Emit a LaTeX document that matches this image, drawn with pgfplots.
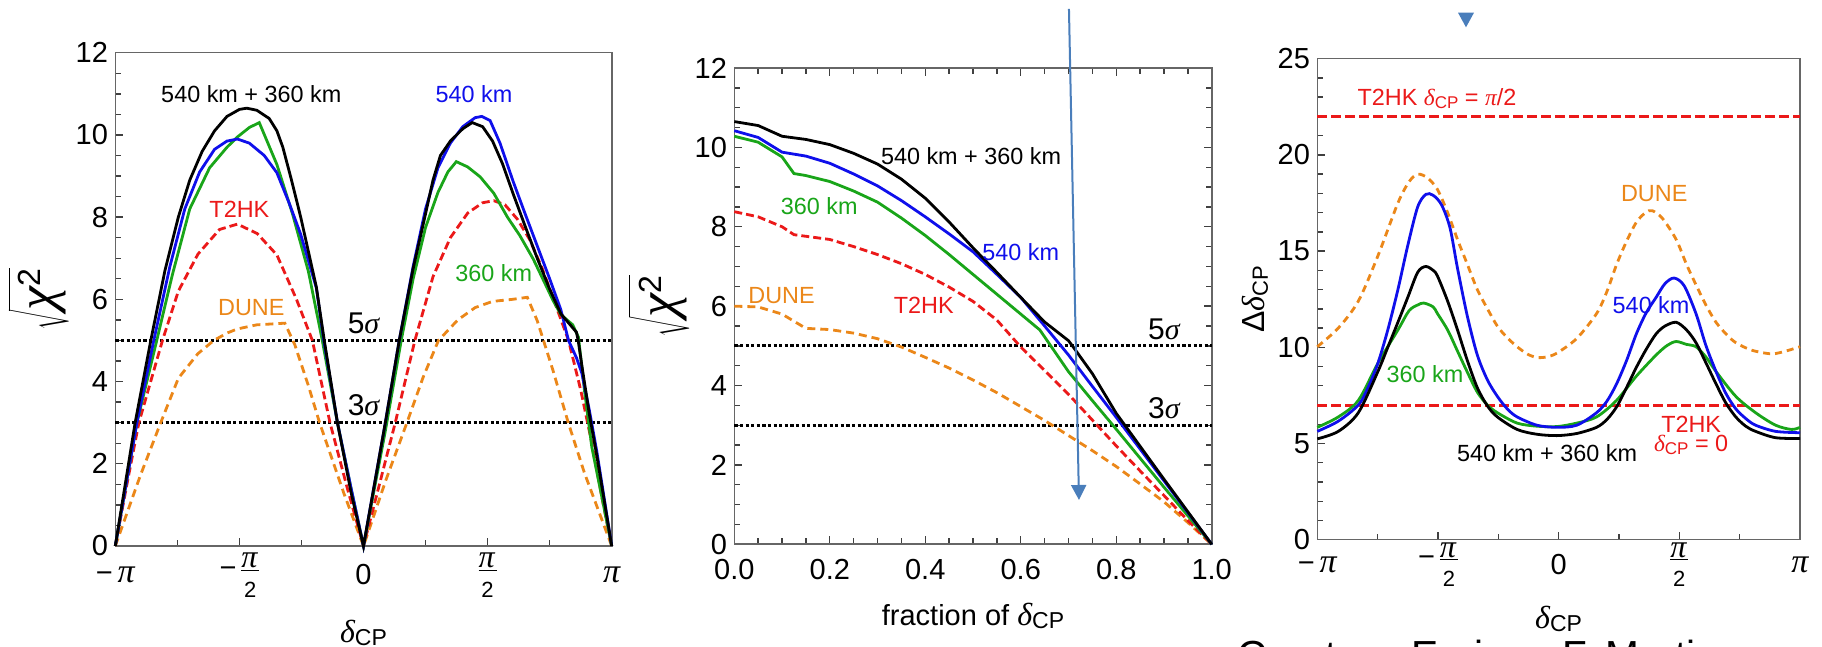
\documentclass[border=0pt]{standalone}
\usepackage{pgfplots}
\pgfplotsset{compat=1.18}
\usepackage{fontspec}
\setmainfont{Liberation Sans}
\newfontfamily\grk{Liberation Serif}
\usetikzlibrary{arrows.meta}

\definecolor{cblue}{RGB}{15,15,235}
\definecolor{cgreen}{RGB}{25,165,25}
\definecolor{cred}{RGB}{235,25,25}
\definecolor{corange}{RGB}{235,135,25}
\definecolor{arrowblue}{RGB}{74,126,187}

\newcommand\fs[1]{\fontsize{#1}{#1}\selectfont}
\newcommand\gi[1]{{\grk\itshape #1}}
\newcommand\dcp[2]{{\fs{#1}\gi{δ}}{\fs{#2}\raisebox{-0.15em}{CP}}}
\newcommand\bpi{{\fs{17}\gi{π}}}
\newcommand\mpi{−\,\bpi}
\newcommand\pistack{\vbox{\offinterlineskip\halign{\hfil##\hfil\cr
  \hbox{\fs{16}\gi{π}\kern1pt}\cr\noalign{\kern0.8pt\hrule height0.6pt\kern5.5pt}
  \hbox{\fs{11}2}\cr}}}
\newcommand\hpi{\raisebox{-1.5pt}{$\vcenter{\pistack}$}}
\newcommand\mhpi{\raisebox{1pt}{−}\,\hpi}
\newcommand\sqchi{\fs{27}$\sqrt{\rule{0pt}{21pt}\hbox{\gi{χ}}^{\hbox{\fs{16}2}}}$}

\pgfplotsset{
  myaxis/.style={
    scale only axis,
    clip=false,
    axis line style={draw=black!60, line width=0.8pt},
    tick style={draw=black!75, line width=0.7pt},
    tick align=inside,
    major tick length=4pt, minor tick length=3pt,
    ticklabel style={font=\fs{14.5}},
    yticklabel style={anchor=east, inner sep=0pt, xshift=-3.5pt},
  },
  sig/.style={black, line width=1.4pt, dash pattern=on 1.6pt off 1.2pt},
  cur/.style={line width=1.4pt},
}

\begin{document}
\begin{tikzpicture}
\path[use as bounding box] (0,0) rectangle (911pt,323.5pt);

% ---------------- panel 1 ----------------
\begin{axis}[myaxis,
  at={(57.65pt,50.5pt)}, anchor=south west,
  width=248.2pt, height=246.65pt,
  xmin=-1, xmax=1, ymin=0, ymax=12,
  xtick={-1,-0.5,0,0.5,1},
  minor xtick={-0.75,-0.25,0.25,0.75},
  xticklabels={{\mpi},{\mhpi},{0},{\hpi},{\bpi}},
  xticklabel style={anchor=center, yshift=-14.5pt},
  ytick={0,2,4,6,8,10,12},
  yticklabels={0,2,4,6,8,10,12},
  minor y tick num=3,
  xtick pos=left, ytick pos=left,
  xlabel={\dcp{16}{11.5}},
  xlabel style={at={(axis description cs:0.5,-0.176)}, anchor=center},
  ylabel={\sqchi},
  ylabel style={at={(axis description cs:-0.155,0.5)}, anchor=center},
]
\addplot[sig] coordinates {(-1,5) (1,5)};
\addplot[sig] coordinates {(-1,3) (1,3)};
% DUNE
\addplot[cur, corange, dash pattern=on 4pt off 2.5pt] coordinates {
(-1,0) (-0.9,1.7) (-0.817,3.0) (-0.746,4.08) (-0.667,4.68) (-0.603,5.0) (-0.55,5.18) (-0.508,5.28) (-0.43,5.38) (-0.317,5.42) (-0.277,4.9) (-0.222,3.9) (-0.177,3.0) (-0.079,1.28) (0,0)
(0.09,1.6) (0.175,3.0) (0.24,4.1) (0.302,5.0) (0.38,5.5) (0.45,5.8) (0.52,5.95) (0.6,6.0) (0.66,6.05) (0.70,5.48) (0.763,4.28) (0.826,2.98) (0.89,1.78) (1,0)};
% T2HK
\addplot[cur, cred, dash pattern=on 4pt off 2pt] coordinates {
(-1,0) (-0.95,1.6) (-0.905,3.0) (-0.81,5.0) (-0.746,6.2) (-0.667,7.1) (-0.58,7.7) (-0.508,7.83) (-0.428,7.6) (-0.349,7.08) (-0.27,6.0) (-0.206,5.0) (-0.135,3.0) (-0.065,1.4) (0,0)
(0.06,1.4) (0.128,3.0) (0.207,5.0) (0.28,6.55) (0.35,7.5) (0.42,8.1) (0.48,8.35) (0.525,8.4) (0.57,8.3) (0.62,7.95) (0.67,7.45) (0.72,6.75) (0.763,6.05) (0.826,5.0) (0.875,3.8) (0.92,2.5) (0.96,1.2) (1,0)};
% 360 km
\addplot[cur, cgreen] coordinates {
(-1,0) (-0.913,3) (-0.833,5) (-0.77,6.6) (-0.70,8.2) (-0.62,9.2) (-0.55,9.7) (-0.508,9.95) (-0.46,10.18) (-0.42,10.3) (-0.349,9.28) (-0.286,8.08) (-0.222,6.68) (-0.166,5.0) (-0.105,3.0) (-0.05,1.4) (0,0)
(0.088,2.8) (0.152,5.0) (0.2,6.5) (0.25,7.75) (0.30,8.6) (0.34,9.1) (0.374,9.35) (0.42,9.22) (0.47,8.98) (0.525,8.58) (0.58,8.0) (0.63,7.55) (0.684,6.98) (0.73,6.4) (0.763,5.98) (0.795,5.63) (0.843,5.38) (0.866,5.08) (0.89,3.8) (0.92,2.4) (1,0)};
% 540 km
\addplot[cur, cblue] coordinates {
(-1,0) (-0.913,3) (-0.845,5) (-0.78,6.8) (-0.72,8.2) (-0.66,9.1) (-0.6,9.65) (-0.55,9.85) (-0.508,9.9) (-0.46,9.8) (-0.40,9.5) (-0.349,9.08) (-0.30,8.35) (-0.253,7.58) (-0.19,6.28) (-0.16,5.0) (-0.105,3.0) (-0.05,1.4) (0,0)
(0.088,3.0) (0.144,5.0) (0.2,6.8) (0.25,8.2) (0.3,9.2) (0.35,9.8) (0.40,10.2) (0.45,10.42) (0.477,10.45) (0.51,10.35) (0.55,9.8) (0.604,8.85) (0.65,8.1) (0.70,7.3) (0.75,6.5) (0.795,5.75) (0.826,5.0) (0.858,4.58) (0.88,4.2) (0.91,3.3) (0.94,2.3) (1,0)};
% 540 + 360
\addplot[cur, black] coordinates {
(-1,0) (-0.92,3) (-0.857,5) (-0.80,6.7) (-0.746,8) (-0.70,8.9) (-0.65,9.6) (-0.60,10.1) (-0.55,10.45) (-0.5,10.62) (-0.47,10.65) (-0.43,10.6) (-0.38,10.4) (-0.349,10.1) (-0.325,9.7) (-0.29,8.9) (-0.253,8.0) (-0.19,6.3) (-0.158,5.0) (-0.105,3.0) (-0.05,1.3) (0,0)
(0.05,1.7) (0.088,3.0) (0.144,5.0) (0.2,6.75) (0.247,8.0) (0.28,8.9) (0.31,9.5) (0.35,9.85) (0.40,10.15) (0.438,10.3) (0.48,10.2) (0.52,9.85) (0.56,9.3) (0.604,8.55) (0.65,7.8) (0.70,7.0) (0.75,6.25) (0.795,5.65) (0.83,5.4) (0.858,5.2) (0.865,5.0) (0.882,4.3) (0.91,3.2) (0.94,2.2) (1,0)};
\node[font=\fs{11.7}, text=black] at (axis cs:-0.452,10.98) {540 km + 360 km};
\node[font=\fs{11.7}, text=cblue] at (axis cs:0.445,10.98) {540 km};
\node[font=\fs{11.7}, text=cred] at (axis cs:-0.5,8.18) {T2HK};
\node[font=\fs{11.7}, text=cgreen] at (axis cs:0.525,6.63) {360 km};
\node[font=\fs{11.7}, text=corange] at (axis cs:-0.452,5.8) {DUNE};
\node[font=\fs{15}] at (axis cs:0,5.42) {5\gi{σ}};
\node[font=\fs{15}] at (axis cs:0,3.42) {3\gi{σ}};
\end{axis}

% ---------------- panel 2 ----------------
\begin{axis}[myaxis,
  at={(367.15pt,51.35pt)}, anchor=south west,
  width=238.7pt, height=238.15pt,
  xmin=0, xmax=1, ymin=0, ymax=12,
  xtick={0,0.2,0.4,0.6,0.8,1},
  xticklabels={0.0,0.2,0.4,0.6,0.8,1.0},
  minor x tick num=3,
  xticklabel style={anchor=center, yshift=-12.5pt},
  ytick={0,2,4,6,8,10,12},
  yticklabels={0,2,4,6,8,10,12},
  minor y tick num=3,
  xtick pos=both, ytick pos=both,
  xlabel={\fs{14.5}fraction of \dcp{16}{11.5}},
  xlabel style={at={(axis description cs:0.5,-0.15)}, anchor=center},
  ylabel={\sqchi},
  ylabel style={at={(axis description cs:-0.158,0.5)}, anchor=center},
]
\addplot[sig] coordinates {(0,5) (1,5)};
\addplot[sig] coordinates {(0,3) (1,3)};
\addplot[cur, corange, dash pattern=on 4pt off 2.5pt] coordinates {
(0,6.0) (0.05,5.98) (0.1,5.8) (0.15,5.44) (0.2,5.41) (0.25,5.32) (0.3,5.18) (0.35,4.97) (0.4,4.71) (0.45,4.44) (0.5,4.14) (0.55,3.82) (0.6,3.47) (0.65,3.12) (0.7,2.74) (0.75,2.36) (0.8,1.96) (0.85,1.52) (0.9,1.07) (0.95,0.55) (1,0)};
\addplot[cur, cred, dash pattern=on 4pt off 2pt] coordinates {
(0,8.38) (0.05,8.25) (0.1,8.0) (0.125,7.8) (0.2,7.68) (0.25,7.5) (0.3,7.3) (0.35,7.07) (0.4,6.8) (0.45,6.48) (0.5,6.12) (0.55,5.65) (0.6,4.97) (0.65,4.38) (0.7,3.78) (0.75,3.13) (0.8,2.48) (0.85,1.85) (0.9,1.23) (0.95,0.6) (1,0)};
\addplot[cur, cgreen] coordinates {
(0,10.28) (0.05,10.13) (0.1,9.76) (0.125,9.34) (0.15,9.29) (0.2,9.14) (0.25,8.9) (0.3,8.62) (0.35,8.22) (0.4,7.78) (0.45,7.3) (0.5,6.8) (0.55,6.3) (0.6,5.8) (0.64,5.4) (0.7,4.35) (0.75,3.62) (0.8,2.9) (0.85,2.17) (0.9,1.44) (0.95,0.72) (1,0)};
\addplot[cur, cblue] coordinates {
(0,10.42) (0.05,10.25) (0.1,9.88) (0.15,9.78) (0.2,9.6) (0.25,9.33) (0.3,9.03) (0.35,8.66) (0.4,8.25) (0.45,7.82) (0.5,7.37) (0.55,6.8) (0.6,6.22) (0.65,5.5) (0.7,4.77) (0.75,3.98) (0.8,3.2) (0.85,2.4) (0.9,1.6) (0.95,0.8) (1,0)};
\addplot[cur, black] coordinates {
(0,10.65) (0.05,10.55) (0.1,10.28) (0.15,10.2) (0.2,10.07) (0.25,9.85) (0.3,9.58) (0.35,9.2) (0.4,8.72) (0.45,8.12) (0.5,7.47) (0.55,6.85) (0.6,6.22) (0.65,5.6) (0.7,5.13) (0.71,4.97) (0.75,4.3) (0.8,3.3) (0.85,2.47) (0.9,1.64) (0.95,0.82) (1,0)};
\node[font=\fs{11.7}, text=black] at (axis cs:0.496,9.78) {540 km + 360 km};
\node[font=\fs{11.7}, text=cgreen] at (axis cs:0.178,8.51) {360 km};
\node[font=\fs{11.7}, text=cblue] at (axis cs:0.6,7.37) {540 km};
\node[font=\fs{11.7}, text=corange] at (axis cs:0.099,6.27) {DUNE};
\node[font=\fs{11.7}, text=cred] at (axis cs:0.397,6.01) {T2HK};
\node[font=\fs{15}] at (axis cs:0.9,5.42) {5\gi{σ}};
\node[font=\fs{15}] at (axis cs:0.9,3.42) {3\gi{σ}};
\draw[arrowblue, line width=1pt, -{Triangle[length=7.5pt,width=7.5pt]}] (axis cs:0.701,13.49) -- (axis cs:0.722,1.116);
\end{axis}

% ---------------- panel 3 ----------------
\begin{axis}[myaxis,
  at={(658.65pt,53.65pt)}, anchor=south west,
  width=241.35pt, height=240.5pt,
  xmin=-1, xmax=1, ymin=0, ymax=25,
  xtick={-1,-0.5,0,0.5,1},
  minor xtick={-0.75,-0.25,0.25,0.75},
  xticklabels={{\mpi},{\mhpi},{0},{\hpi},{\bpi}},
  xticklabel style={anchor=center, yshift=-12.5pt},
  ytick={0,5,10,15,20,25},
  yticklabels={0,5,10,15,20,25},
  minor y tick num=4,
  xtick pos=left, ytick pos=left,
  xlabel={\dcp{16}{11.5}},
  xlabel style={at={(axis description cs:0.5,-0.165)}, anchor=center},
  ylabel={{\fs{16}Δ}\dcp{16}{11}},
  ylabel style={at={(axis description cs:-0.129,0.5)}, anchor=center},
]
\addplot[cred, line width=1.5pt, dash pattern=on 5pt off 2pt] coordinates {(-1,22) (1,22)};
\addplot[cred, line width=1.5pt, dash pattern=on 5pt off 2pt] coordinates {(-1,7) (1,7)};
\addplot[cur, corange, smooth, dash pattern=on 3.5pt off 2.5pt] coordinates {
(-1,10.03) (-0.913,11.0) (-0.83,12.4) (-0.749,14.75) (-0.666,17.5) (-0.62,18.6) (-0.584,19.0) (-0.543,18.8) (-0.502,18.2) (-0.46,17.0) (-0.419,15.6) (-0.378,14.3) (-0.337,13.0) (-0.295,12.0) (-0.254,11.1) (-0.213,10.5) (-0.172,10.03) (-0.13,9.65) (-0.09,9.47) (-0.05,9.5) (-0.007,9.7) (0.075,10.46) (0.157,11.75) (0.2,12.9) (0.24,14.3) (0.281,15.5) (0.322,16.5) (0.36,17.0) (0.388,17.1) (0.43,16.7) (0.487,15.6) (0.53,14.3) (0.569,13.25) (0.61,12.2) (0.652,11.3) (0.693,10.7) (0.734,10.24) (0.8,9.85) (0.882,9.66) (0.94,9.8) (1,10.03)};
\addplot[cur, cgreen, smooth] coordinates {
(-1,5.84) (-0.913,6.38) (-0.83,7.24) (-0.749,9.17) (-0.666,10.9) (-0.62,11.9) (-0.584,12.2) (-0.559,12.3) (-0.52,12.1) (-0.502,11.75) (-0.46,10.9) (-0.419,9.8) (-0.378,8.7) (-0.337,7.67) (-0.295,7.0) (-0.254,6.6) (-0.172,6.06) (-0.09,5.9) (-0.007,5.88) (0.075,6.06) (0.157,6.38) (0.24,7.24) (0.322,8.5) (0.404,9.6) (0.45,10.1) (0.487,10.3) (0.53,10.15) (0.569,10.03) (0.61,9.5) (0.652,8.74) (0.734,7.45) (0.816,6.6) (0.899,5.95) (0.965,5.73) (1,5.84)};
\addplot[cur, cblue, smooth] coordinates {
(-1,5.63) (-0.913,6.16) (-0.83,7.0) (-0.79,7.9) (-0.749,9.17) (-0.708,10.9) (-0.666,13.0) (-0.625,15.3) (-0.584,17.3) (-0.55,17.95) (-0.52,17.9) (-0.485,17.4) (-0.45,16.2) (-0.419,14.1) (-0.378,11.6) (-0.337,9.6) (-0.295,8.3) (-0.254,7.45) (-0.213,6.8) (-0.172,6.38) (-0.09,5.95) (-0.007,5.84) (0.075,5.95) (0.157,6.6) (0.2,7.2) (0.24,8.1) (0.281,9.3) (0.322,10.7) (0.363,11.8) (0.404,12.6) (0.44,13.3) (0.478,13.6) (0.52,13.2) (0.569,11.75) (0.61,10.1) (0.652,8.74) (0.693,7.6) (0.734,6.8) (0.775,6.3) (0.816,5.95) (0.899,5.63) (1,5.56)};
\addplot[cur, black, smooth] coordinates {
(-1,5.24) (-0.913,5.63) (-0.83,6.6) (-0.749,8.74) (-0.708,10.0) (-0.666,11.3) (-0.625,12.6) (-0.584,13.9) (-0.551,14.2) (-0.52,14.0) (-0.502,13.7) (-0.46,12.4) (-0.419,10.9) (-0.378,9.3) (-0.337,7.9) (-0.295,6.95) (-0.254,6.38) (-0.172,5.73) (-0.09,5.48) (-0.007,5.41) (0.075,5.52) (0.157,5.84) (0.2,6.25) (0.24,6.9) (0.281,7.9) (0.322,8.96) (0.363,9.9) (0.404,10.7) (0.44,11.1) (0.487,11.3) (0.53,10.9) (0.569,10.24) (0.61,9.2) (0.652,8.1) (0.693,7.1) (0.734,6.38) (0.775,5.9) (0.816,5.63) (0.899,5.3) (1,5.26)};
\node[font=\fs{11.7}, text=cred, anchor=base] at (axis cs:-0.504,22.55) {T2HK \dcp{11.7}{8.5} = \gi{π}/2};
\node[font=\fs{11.7}, text=corange] at (axis cs:0.396,18.0) {DUNE};
\node[font=\fs{11.7}, text=cblue] at (axis cs:0.383,12.2) {540 km};
\node[font=\fs{11.7}, text=cgreen] at (axis cs:-0.554,8.63) {360 km};
\node[font=\fs{11.7}, text=cred] at (axis cs:0.549,6.0) {T2HK};
\node[font=\fs{11.7}, text=cred] at (axis cs:0.549,4.92) {\dcp{11.7}{8.5} = 0};
\node[font=\fs{11.7}, text=black] at (axis cs:-0.048,4.49) {540 km + 360 km};
\end{axis}

\fill[arrowblue] (729pt,317.15pt) -- (737pt,317.15pt) -- (733pt,309.85pt) -- cycle;
\node[anchor=base west, inner sep=0pt, font=\fs{20.3}] at (618.5pt,-11.5pt) {Courtesy Enrique F. Martinez};
\end{tikzpicture}
\end{document}
